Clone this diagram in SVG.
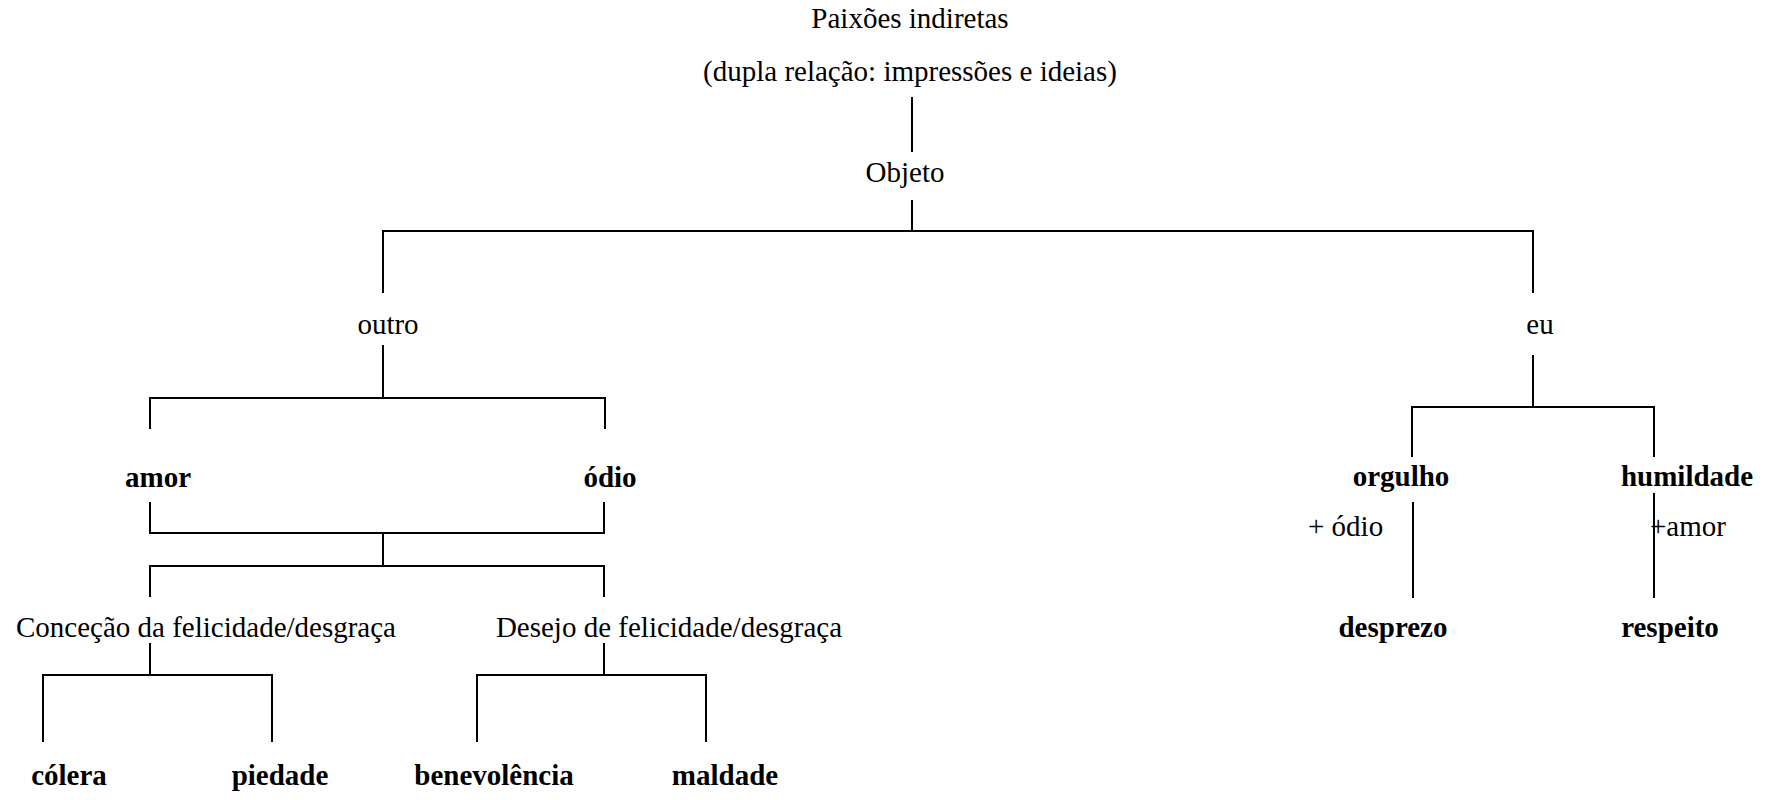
<svg xmlns="http://www.w3.org/2000/svg" width="1769" height="800" viewBox="0 0 1769 800">
<style>
text{font-family:"Liberation Serif","Times New Roman",serif;font-size:29px;fill:#000;text-anchor:middle}
.b{font-weight:bold}
.s{text-anchor:start}
#connectors path{stroke:#000;stroke-width:2;fill:none}
</style>
<rect width="1769" height="800" fill="#fff"/>
<g id="connectors">
<path d="M912 97V152"/>
<path d="M912 200V231M383 293V231H1533V293"/>
<path d="M383 345V398M150 429V398H605V429"/>
<path d="M1533 355V407M1412 457V407H1654V457"/>
<path d="M1413 502V598"/>
<path d="M1654 493V598"/>
<path d="M150 502V533H604V502M383 533V566M150 597V566H604V597"/>
<path d="M150 643V675M43 742V675H272V742"/>
<path d="M604 643V675M477 742V675H706V742"/>
</g>
<g id="n-paixoes"><text x="910" y="28">Paixões indiretas</text></g>
<g id="n-dupla"><text x="910" y="81">(dupla relação: impressões e ideias)</text></g>
<g id="n-objeto"><text x="905" y="182">Objeto</text></g>
<g id="n-outro"><text x="388" y="334">outro</text></g>
<g id="n-eu"><text x="1540" y="334">eu</text></g>
<g id="n-amor"><text class="b" x="158" y="487">amor</text></g>
<g id="n-odio"><text class="b" x="610" y="487">ódio</text></g>
<g id="n-orgulho"><text class="b" x="1401" y="486">orgulho</text></g>
<g id="n-humildade"><text class="b" x="1687" y="486">humildade</text></g>
<g id="l-odio"><text class="s" x="1308" y="536">+ ódio</text></g>
<g id="l-amor"><text class="s" x="1650" y="536">+amor</text></g>
<g id="n-desprezo"><text class="b" x="1393" y="637">desprezo</text></g>
<g id="n-respeito"><text class="b" x="1670" y="637">respeito</text></g>
<g id="n-concecao"><text x="206" y="637">Conceção da felicidade/desgraça</text></g>
<g id="n-desejo"><text x="669" y="637">Desejo de felicidade/desgraça</text></g>
<g id="n-colera"><text class="b" x="69" y="785">cólera</text></g>
<g id="n-piedade"><text class="b" x="280" y="785">piedade</text></g>
<g id="n-benevolencia"><text class="b" x="494" y="785">benevolência</text></g>
<g id="n-maldade"><text class="b" x="725" y="785">maldade</text></g>
</svg>
